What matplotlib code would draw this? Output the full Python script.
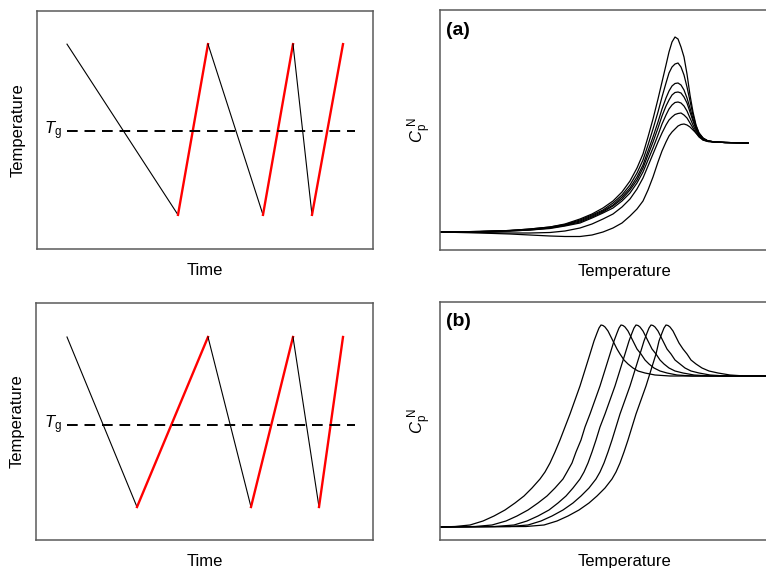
import numpy as np
import matplotlib
matplotlib.use("Agg")
import matplotlib.pyplot as plt

plt.rcParams["font.family"] = ["Liberation Sans", "DejaVu Sans"]
plt.rcParams["mathtext.fontset"] = "custom"
plt.rcParams["mathtext.rm"] = "Liberation Sans"
plt.rcParams["mathtext.it"] = "Liberation Sans:italic"

# --- temperature protocols (time, temperature in arbitrary units) ---
prot_a_time = [30, 141, 171, 226, 256, 275, 306]
prot_a_temp = [204, 34, 204, 34, 204, 34, 204]
prot_b_time = [31, 101, 172, 215, 257, 283, 307]
prot_b_temp = [203, 33, 203, 33, 203, 33, 203]
tg_a = 118
tg_b = 115
tg_span_a = [30, 318]
tg_span_b = [31, 319]

# --- panel (a): normalized heat capacity after different ageing ---
temp_a = [440, 480, 510, 530, 550, 565, 580, 592, 603, 613, 622, 630, 637, 643,
          648, 653, 658, 662, 666, 669, 672, 675, 678, 681, 684, 687, 690, 693,
          696, 699, 703, 708, 715, 725, 748]
cp_a1 = [0, 0.5, 1.5, 3, 5, 8, 13, 18, 24, 31, 40, 51, 64, 78,
         95, 113, 133, 150, 167, 180, 190, 195, 193, 185, 175, 158, 137, 120,
         107, 99, 94, 91, 90, 89.5, 89]
cp_a2 = [0, 0.5, 1.5, 3, 5, 7.5, 12, 17, 22, 29, 37, 47, 59, 72,
         87, 103, 120, 135, 149, 159, 165, 168, 169, 165, 157, 145, 131, 117,
         106, 99, 94, 91, 90, 89.5, 89]
cp_a3 = [0, 0.5, 1.5, 2.5, 4.5, 7, 11, 16, 21, 27, 35, 44, 55, 67,
         81, 95, 110, 123, 134, 141, 146, 148.5, 149, 147, 142, 134, 124, 113,
         104, 98, 93, 91, 90, 89.5, 89]
cp_a4 = [0, 0.5, 1, 2, 4, 6.5, 10, 15, 20, 26, 33, 42, 52, 64,
         77, 90, 104, 116, 126, 132, 137, 139.5, 140, 139, 135, 129, 120, 111,
         103, 97, 93, 91, 90, 89.5, 89]
cp_a5 = [0, 0, 1, 2, 3.5, 6, 9, 14, 19, 24, 31, 39, 49, 60,
         72, 84, 97, 108, 117, 123, 127, 129.5, 130, 129, 126, 121, 114, 107,
         101, 96, 92, 90.5, 90, 89.5, 89]
cp_a6 = [0, -0.5, -1, -1, -0.5, 1, 4, 8, 13, 18, 25, 33, 43, 54,
         66, 78, 90, 99, 107, 112, 115, 117.5, 118.5, 119, 117, 114, 109, 104,
         99, 95, 92, 90.5, 90, 89.5, 89]
cp_a7 = [0, -1, -2, -3, -4, -4.5, -4.5, -3, 0, 4, 9, 16, 23, 31,
         42, 55, 70, 81, 90, 96, 100, 103, 106, 107.5, 108, 107, 105, 102,
         99, 96, 93, 91, 90, 89.5, 89]

# --- panel (b): normalized heat capacity at different heating rates ---
temp_b1 = [440, 455, 470, 483, 494, 505, 515, 524, 532, 540,
           545, 550, 555, 560, 565, 570, 575, 580, 585, 590,
           594, 597, 599, 601, 603, 605, 608, 611, 614, 617,
           620, 624, 628, 633, 638, 645, 655, 670, 766]
temp_b2 = [440, 475, 492, 506, 517, 528, 538, 547, 555, 563,
           567, 572, 576, 581, 585, 590, 595, 600, 605, 610,
           614, 617, 619, 621, 623, 625, 628, 631, 634, 637,
           641, 645, 649, 654, 660, 667, 677, 692, 766]
temp_b3 = [440, 495, 514, 527, 538, 549, 558, 566, 573, 580,
           584, 588, 592, 596, 600, 605, 610, 615, 620, 625,
           629, 632, 634, 636, 638, 640, 643, 646, 649, 652,
           656, 660, 664, 669, 675, 683, 694, 710, 766]
temp_b4 = [440, 510, 528, 541, 552, 563, 573, 581, 589, 596,
           600, 604, 608, 612, 616, 620, 625, 630, 635, 640,
           644, 647, 649, 651, 653, 655, 658, 661, 664, 667,
           671, 675, 680, 685, 691, 699, 710, 726, 766]
temp_b5 = [440, 526, 544, 557, 568, 579, 589, 597, 605, 612,
           616, 620, 624, 628, 632, 636, 641, 646, 651, 656,
           659, 662, 664, 666, 668, 670, 673, 676, 679, 683,
           687, 691, 696, 702, 709, 718, 730, 745, 766]
# all five scans show the same overshoot height
cp_b = [0, 0.5, 2, 6, 11, 17, 24, 31, 39, 48,
        55, 64, 75, 87, 100, 113, 127, 141, 157, 173,
        186, 194, 199, 202, 201.5, 200, 196, 190, 184, 178,
        173, 167, 163, 159, 156, 154, 152, 151, 151]

SPINE = "#5a5a5a"
W, H = 766, 568

fig = plt.figure(figsize=(W / 100, H / 100), dpi=100)


def px_axes(left, top, right, bottom):
    return fig.add_axes([left / W, 1 - bottom / H, (right - left) / W, (bottom - top) / H])


def style(ax):
    ax.set_xticks([])
    ax.set_yticks([])
    for s in ax.spines.values():
        s.set_color(SPINE)
        s.set_linewidth(1.1)


def protocol(ax, t, T, tg, span, xmax):
    # cooling segments black, heating segments red
    for i in range(len(t) - 1):
        if T[i + 1] < T[i]:
            ax.plot(t[i:i + 2], T[i:i + 2], color="black", lw=0.8)
        else:
            ax.plot(t[i:i + 2], T[i:i + 2], color="red", lw=1.7)
    ax.plot(span, [tg, tg], color="black", lw=1.4, ls=(0, (5.5, 3.5)))
    ax.text(span[0] - 5, tg, r"$T_\mathrm{g}$", ha="right", va="center", fontsize=12)
    ax.set_xlim(0, xmax)
    ax.set_ylim(0, 237)
    ax.set_xlabel("Time", fontsize=12, labelpad=10)
    ax.set_ylabel("Temperature", fontsize=12, labelpad=8)
    style(ax)


ax1 = px_axes(37, 11, 373, 249)
protocol(ax1, prot_a_time, prot_a_temp, tg_a, tg_span_a, 336)

ax3 = px_axes(36, 303, 373, 540)
protocol(ax3, prot_b_time, prot_b_temp, tg_b, tg_span_b, 337)

ax2 = px_axes(440, 10, 810, 250)
for cp in [cp_a1, cp_a2, cp_a3, cp_a4, cp_a5, cp_a6, cp_a7]:
    ax2.plot(temp_a, cp, color="black", lw=0.9)
ax2.set_xlim(440, 810)
ax2.set_ylim(-18, 222)

ax4 = px_axes(440, 302, 810, 540)
for tb in [temp_b1, temp_b2, temp_b3, temp_b4, temp_b5]:
    ax4.plot(tb, cp_b, color="black", lw=0.9)
ax4.set_xlim(440, 810)
ax4.set_ylim(-13, 225)

for ax, lab in [(ax2, "(a)"), (ax4, "(b)")]:
    ax.set_xlabel("Temperature", fontsize=12, labelpad=10)
    ax.set_ylabel(r"$C_\mathrm{p}^{\ \mathrm{N}}$", fontsize=12, labelpad=4)
    ax.text(6 / 370, 0.916, lab, transform=ax.transAxes, fontsize=14,
            fontweight="bold", ha="left", va="center")
    style(ax)

fig.savefig("out.png", dpi=100)
